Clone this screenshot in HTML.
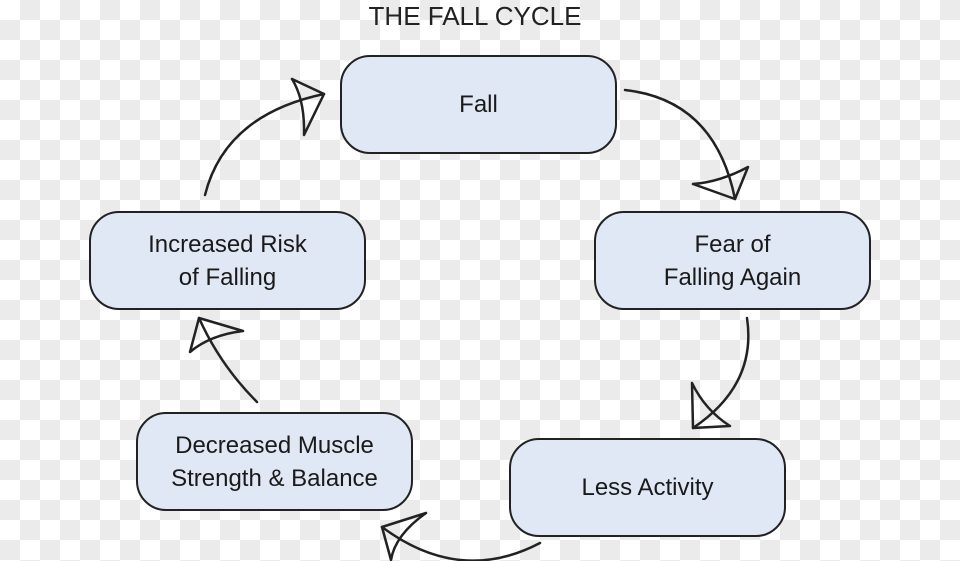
<!DOCTYPE html>
<html><head><style>
html,body{margin:0;padding:0;}
body{width:960px;height:561px;overflow:hidden;position:relative;
background:conic-gradient(#ebebeb 25%,#fff 0 50%,#ebebeb 0 75%,#fff 0);
background-size:40px 40px;background-position:0 0;
font-family:"Liberation Sans",sans-serif;}
.t{position:absolute;left:0;width:960px;top:0;text-align:center;font-size:26px;color:#222;line-height:32px;}
.b{position:absolute;width:273px;height:95px;border:2px solid #222;border-radius:30px;background:#e1e8f5;box-sizing:content-box;display:flex;align-items:center;justify-content:center;text-align:center;font-size:24px;line-height:33px;color:#1a1a1a;}
svg{position:absolute;left:0;top:0;}
</style></head><body>
<div class="t" style="left:-5px">THE FALL CYCLE</div>
<div class="b" style="left:340px;top:55px">Fall</div>
<div class="b" style="left:594px;top:211px">Fear of<br>Falling Again</div>
<div class="b" style="left:509px;top:438px">Less Activity</div>
<div class="b" style="left:136px;top:412px">Decreased Muscle<br>Strength &amp; Balance</div>
<div class="b" style="left:89px;top:211px">Increased Risk<br>of Falling</div>
<svg width="960" height="561" fill="none" stroke="#222" stroke-width="2.5" stroke-linecap="round" stroke-linejoin="round">
<path d="M625 90 Q715 100 735 199"/><path d="M693 184 L735 199 L748 167 Q720 182 693 184"/>
<path d="M747 318 Q757 385 693 428"/><path d="M692 383 L693 428 L730 426 Q705 410 692 383"/>
<path d="M540 543 Q460 585 382 527"/><path d="M426 513 L382 527 L391 560 Q395 535 426 513"/>
<path d="M257 402 Q220 365 199 318"/><path d="M243 331 L199 318 L190 352 Q210 335 243 331"/>
<path d="M205 195 Q225 115 324 94"/><path d="M292 79 L324 94 L304 135 Q305 100 292 79"/>
</svg>
</body></html>
